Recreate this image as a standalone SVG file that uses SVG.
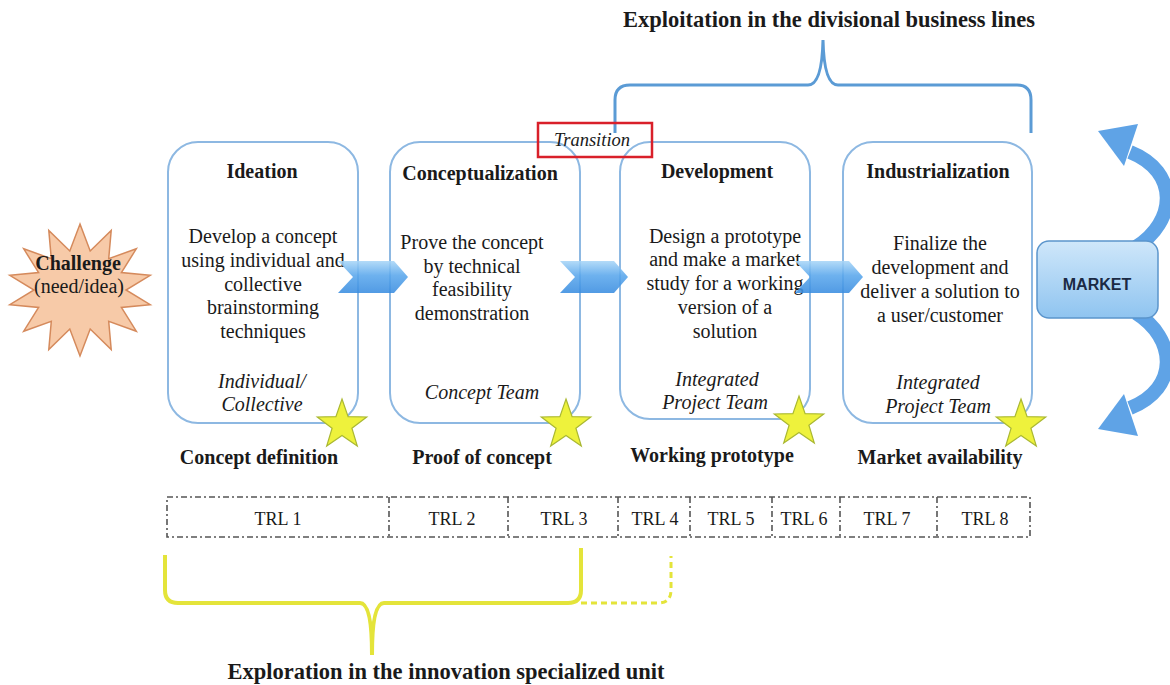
<svg xmlns="http://www.w3.org/2000/svg" width="1170" height="685" viewBox="0 0 1170 685">
<defs>
<linearGradient id="arrowGrad" x1="0" y1="0" x2="0" y2="1">
<stop offset="0" stop-color="#a9d6f7"/>
<stop offset="0.45" stop-color="#5aa7ec"/>
<stop offset="1" stop-color="#3a8de0"/>
</linearGradient>
<linearGradient id="marketGrad" x1="0" y1="0" x2="0" y2="1">
<stop offset="0" stop-color="#cfe7fa"/>
<stop offset="1" stop-color="#8fc4f0"/>
</linearGradient>
<polygon id="star" points="0,-26 6.1,-8.4 24.7,-8 9.9,3.2 15.3,21 0,10.4 -15.3,21 -9.9,3.2 -24.7,-8 -6.1,-8.4"/>
</defs>
<style>
text{font-family:"Liberation Serif","Times New Roman",serif;fill:#1a1a1a;text-anchor:middle}
.box{fill:#ffffff;stroke:#8db8e2;stroke-width:2}
.ttl{font-weight:bold;font-size:20px}
.bd{font-size:20px}
.it{font-style:italic;font-size:20px}
.big{font-weight:bold;font-size:22.5px}
.trl{font-size:18px}
.chev{fill:url(#arrowGrad);opacity:0.88}
.st{fill:#eef23c;stroke:#aab832;stroke-width:1.2}
.dash{fill:none;stroke:#555;stroke-width:1.6;stroke-dasharray:6,3,2,3}
.mkt{fill:none;stroke:#5fa3e6;stroke-width:14}
.mkthead{fill:#5fa3e6}
</style>
<rect width="1170" height="685" fill="#ffffff"/>

<g id="exploitation-brace">
<path d="M615,133 L615,100 Q615,85 630,85 L808,85 Q822,85 823,40 Q824,85 838,85 L1017,85 Q1031,85 1031,100 L1031,133" fill="none" stroke="#5b9bd5" stroke-width="3"/>
<text class="big" x="829" y="27">Exploitation in the divisional business lines</text>
</g>

<g id="challenge">
<polygon points="80,224 90.2,251 111.2,230.5 108.7,258.7 136.3,248.8 121.4,272.6 150.2,275.3 126,290 150.2,304.7 121.4,307.4 136.3,331.2 108.7,321.3 111.2,349.5 90.2,329 80,356 69.8,329 48.8,349.5 51.3,321.3 23.7,331.2 38.6,307.4 9.8,304.7 34,290 9.8,275.3 38.6,272.6 23.7,248.8 51.3,258.7 48.8,230.5 69.8,251" fill="#f7caa8" stroke="#d58a5c" stroke-width="1.5"/>
<text class="ttl" x="78" y="270">Challenge</text>
<text class="bd" x="79" y="293">(need/idea)</text>
</g>

<g id="ideation">
<rect class="box" x="168" y="142" width="190" height="281" rx="30"/>
<text class="ttl" x="262" y="178">Ideation</text>
<text class="bd" x="263" y="243">Develop a concept</text>
<text class="bd" x="263" y="267">using individual and</text>
<text class="bd" x="263" y="291">collective</text>
<text class="bd" x="263" y="314">brainstorming</text>
<text class="bd" x="263" y="338">techniques</text>
<text class="it" x="262" y="388">Individual/</text>
<text class="it" x="262" y="411">Collective</text>
<use href="#star" class="st" x="342" y="425"/>
<text class="ttl" x="259" y="464">Concept definition</text>
</g>

<g id="conceptualization">
<rect class="box" x="390" y="142" width="190" height="281" rx="30"/>
<text class="ttl" x="480" y="180">Conceptualization</text>
<text class="bd" x="472" y="249">Prove the concept</text>
<text class="bd" x="472" y="273">by technical</text>
<text class="bd" x="472" y="296">feasibility</text>
<text class="bd" x="472" y="320">demonstration</text>
<text class="it" x="482" y="399">Concept Team</text>
<use href="#star" class="st" x="566" y="425"/>
<text class="ttl" x="482" y="464">Proof of concept</text>
</g>

<g id="development">
<rect class="box" x="620" y="142" width="190" height="277" rx="30"/>
<text class="ttl" x="717" y="178">Development</text>
<text class="bd" x="725" y="243">Design a prototype</text>
<text class="bd" x="725" y="266">and make a market</text>
<text class="bd" x="725" y="290">study for a working</text>
<text class="bd" x="725" y="314">version of a</text>
<text class="bd" x="725" y="338">solution</text>
<text class="it" x="717" y="386">Integrated</text>
<text class="it" x="715" y="409">Project Team</text>
<use href="#star" class="st" x="799" y="422"/>
<text class="ttl" x="712" y="462">Working prototype</text>
</g>

<g id="industrialization">
<rect class="box" x="843" y="142" width="189" height="281" rx="30"/>
<text class="ttl" x="938" y="178">Industrialization</text>
<text class="bd" x="940" y="250">Finalize the</text>
<text class="bd" x="940" y="274">development and</text>
<text class="bd" x="940" y="298">deliver a solution to</text>
<text class="bd" x="940" y="322">a user/customer</text>
<text class="it" x="938" y="389">Integrated</text>
<text class="it" x="938" y="413">Project Team</text>
<use href="#star" class="st" x="1021" y="425"/>
<text class="ttl" x="940" y="464">Market availability</text>
</g>

<g id="transition">
<rect x="538" y="123" width="114" height="34" fill="none" stroke="#d9202a" stroke-width="2.5"/>
<text class="it" x="592" y="146" style="font-size:18.5px">Transition</text>
</g>

<g id="connectors">
<polygon class="chev" points="338,261 394,261 408,277 394,293 338,293 353,277"/>
<polygon class="chev" points="560,261 614,261 628,277 614,293 560,293 575,277"/>
<polygon class="chev" points="795,261 849,261 863,277 849,293 795,293 810,277"/>
<g id="market-arrows">
<path class="mkt" d="M1136,247 C1176,222 1180,172 1130,152"/>
<polygon class="mkthead" points="1098,131 1138,124 1124,166"/>
<g transform="translate(0,560) scale(1,-1)">
<path class="mkt" d="M1136,247 C1176,222 1180,172 1130,152"/>
<polygon class="mkthead" points="1098,131 1138,124 1124,166"/>
</g>
</g>
</g>

<g id="market">
<rect x="1037" y="241" width="121" height="77" rx="12" fill="url(#marketGrad)" stroke="#5b95cc" stroke-width="1.5"/>
<text x="1097" y="290" style="font-family:'Liberation Sans',Arial,sans-serif;font-weight:bold;font-size:16px;fill:#1b2a44">MARKET</text>
</g>

<g id="trl">
<rect class="dash" x="167" y="497" width="863" height="40"/>
<line class="dash" x1="389" y1="497" x2="389" y2="537"/>
<line class="dash" x1="508" y1="497" x2="508" y2="537"/>
<line class="dash" x1="618" y1="497" x2="618" y2="537"/>
<line class="dash" x1="690" y1="497" x2="690" y2="537"/>
<line class="dash" x1="772" y1="497" x2="772" y2="537"/>
<line class="dash" x1="840" y1="497" x2="840" y2="537"/>
<line class="dash" x1="937" y1="497" x2="937" y2="537"/>
<text class="trl" x="278" y="525">TRL 1</text>
<text class="trl" x="452" y="525">TRL 2</text>
<text class="trl" x="564" y="525">TRL 3</text>
<text class="trl" x="655" y="525">TRL 4</text>
<text class="trl" x="731" y="525">TRL 5</text>
<text class="trl" x="804" y="525">TRL 6</text>
<text class="trl" x="887" y="525">TRL 7</text>
<text class="trl" x="985" y="525">TRL 8</text>
</g>

<g id="exploration-brace">
<path d="M165,555 L165,590 Q165,603 178,603 L360,603 Q372,603 372,655 Q372,603 384,603 L568,603 Q581,603 581,590 L581,548" fill="none" stroke="#e4e43a" stroke-width="4"/>
<path d="M581,603 L658,603 Q671,603 671,590 L671,556" fill="none" stroke="#e4e43a" stroke-width="3" stroke-dasharray="6,4"/>
<text class="big" x="446" y="679">Exploration in the innovation specialized unit</text>
</g>
</svg>
